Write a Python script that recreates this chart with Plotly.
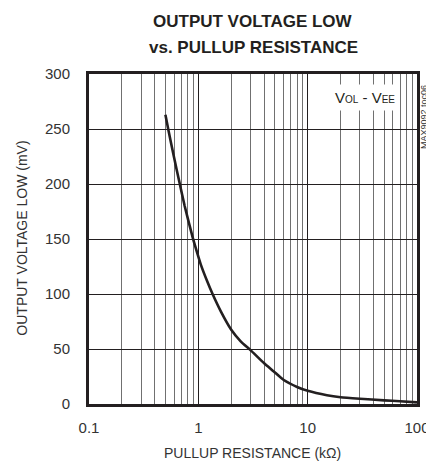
import plotly.graph_objects as go

# Data
resistance_kohm = [0.5, 0.53, 0.6, 0.67, 0.75, 0.89, 1.0, 1.06, 1.2, 1.35, 1.61, 2.0, 2.44, 3.0, 4.0, 4.9, 6.0, 8.0, 10.0, 15.0, 20.0, 30.0, 50.0, 70.0, 100.0]
vol_mv = [263, 250, 224, 202, 180, 151, 134, 126, 112, 100, 84, 67.5, 57, 49, 37, 29.6, 22, 15.5, 12, 8, 6.2, 4.8, 3.3, 2.5, 1.5]

x_major = [0.1, 1, 10, 100]
x_major_labels = ["0.1", "1", "10", "100"]
x_minor = [m * d for d in [0.1, 1, 10] for m in range(2, 10)]
y_ticks = [0, 50, 100, 150, 200, 250, 300]

FONT = "Liberation Sans, Arial, Helvetica, sans-serif"
INK = "#231f20"

# plot area (figure pixels)
L, T, PW, PH = 81, 66, 331, 330
W, H = 434, 463

fig = go.Figure()
fig.add_trace(go.Scatter(
    x=resistance_kohm, y=vol_mv, mode="lines",
    line=dict(color=INK, width=2.6, shape="spline", smoothing=0.5),
    hoverinfo="skip", showlegend=False,
))

fig.update_layout(
    width=W, height=H,
    margin=dict(l=L, r=W - L - PW, t=T, b=H - T - PH),
    paper_bgcolor="white", plot_bgcolor="white",
    font=dict(family=FONT, size=15, color="#333333"),
    xaxis=dict(
        type="log", range=[-1, 2],
        tickvals=x_major, ticktext=x_major_labels,
        ticks="", ticklabelstandoff=8,
        showgrid=True, gridcolor=INK, gridwidth=1,
        minor=dict(tickvals=x_minor, showgrid=True, gridcolor="#707070", gridwidth=1, ticks=""),
        showline=True, linecolor=INK, linewidth=3, mirror=True,
        zeroline=False,
    ),
    yaxis=dict(
        range=[0, 300], tickvals=y_ticks,
        ticks="", ticklabelstandoff=13,
        showgrid=True, gridcolor=INK, gridwidth=1,
        showline=True, linecolor=INK, linewidth=3, mirror=True,
        zeroline=False,
    ),
)

# titles
fig.add_annotation(xref="paper", yref="paper", x=0.5, y=1.1606, xanchor="center", yanchor="middle",
                   text="<b>OUTPUT VOLTAGE LOW</b>", showarrow=False,
                   font=dict(family=FONT, size=17, color=INK))
fig.add_annotation(xref="paper", yref="paper", x=0.5, y=1.0818, xanchor="center", yanchor="middle",
                   text="<b>vs. PULLUP RESISTANCE</b>", showarrow=False,
                   font=dict(family=FONT, size=17, color=INK))
fig.add_annotation(xref="paper", yref="paper", x=0.497, y=-0.1485, xanchor="center", yanchor="middle",
                   text="PULLUP RESISTANCE (kΩ)", showarrow=False,
                   font=dict(family=FONT, size=14, color="#333333"))
fig.add_annotation(xref="paper", yref="paper", x=-0.2054, y=0.503, xanchor="center", yanchor="middle",
                   text="OUTPUT VOLTAGE LOW (mV)", textangle=-90, showarrow=False,
                   font=dict(family=FONT, size=14, color="#333333"))

fig.add_annotation(
    xref="paper", yref="paper", x=0.9486, y=0.930, xanchor="right", yanchor="middle",
    text="V<span style='font-size:10px'>OL</span> - V<span style='font-size:10px'>EE</span>",
    showarrow=False, bgcolor="white", borderpad=4,
    font=dict(family=FONT, size=15, color=INK),
)
fig.add_annotation(
    xref="paper", yref="paper", x=1.022, y=0.87, xanchor="center", yanchor="middle",
    text="MAX9092 toc06", textangle=-90, showarrow=False,
    font=dict(family=FONT, size=9, color="#333333"),
)

fig.write_html("out.html")
